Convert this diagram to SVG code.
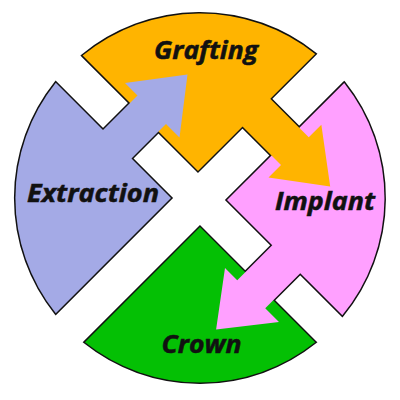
<svg xmlns="http://www.w3.org/2000/svg" xmlns:xlink="http://www.w3.org/1999/xlink" width="400" height="400" viewBox="0 0 400 400">
  <style>
    .outline { fill: none; stroke: #111; stroke-width: 3; stroke-linejoin: miter; }
    .lbl { font-family: "Open Sans", "Noto Sans", "Liberation Sans", sans-serif; font-weight: 700; font-style: italic; font-size: 24.5px; fill: #111; stroke: #111; stroke-width: 0.5; }
    .orange { fill: #FFB400; }
    .lav { fill: #A4AAE6; }
    .pink { fill: #FFA0FF; }
    .green { fill: #04C004; }
  </style>
  <defs>
    <path id="bodyGrafting" d="M82.6,55.6 L198,171 L315.2,53.9 A184.5,184.5 0 0 0 82.6,55.6 Z"/>
    <path id="bodyExtraction" d="M55.8,82.8 L171,198 L55.8,313.2 A184.5,184.5 0 0 1 55.8,82.8 Z"/>
    <path id="bodyImplant" d="M344.2,82.9 L227,200 L342.3,315.3 A184.5,184.5 0 0 0 344.2,82.9 Z"/>
    <path id="bodyCrown" d="M315.2,342.2 L200,227 L84.9,342.2 A184.5,184.5 0 0 0 315.2,342.2 Z"/>
    <polygon id="arrow1" points="94,139 137.5,95.5 125,83 187.5,74.5 179.5,137.5 166,124 122.5,167.5"/>
    <polygon id="arrow2" points="260.75,89.25 308.75,137.25 321.35,124.65 330.2,186.5 268.5,177.5 281,165 233,117"/>
    <polygon id="arrow3" points="281.25,236.25 237.25,280.25 225,268 216.1,329.4 279,322 265.25,308.25 309.25,264.25"/>
  </defs>

  <g id="outlines" class="outline">
    <use xlink:href="#bodyGrafting"/>
    <use xlink:href="#bodyExtraction"/>
    <use xlink:href="#bodyImplant"/>
    <use xlink:href="#bodyCrown"/>
    <use xlink:href="#arrow1"/>
    <use xlink:href="#arrow2"/>
    <use xlink:href="#arrow3"/>
  </g>

  <g id="node-crown">
    <use xlink:href="#bodyCrown" class="green"/>
  </g>
  <g id="node-implant">
    <use xlink:href="#bodyImplant" class="pink"/>
  </g>
  <g id="node-grafting">
    <use xlink:href="#bodyGrafting" class="orange"/>
  </g>
  <g id="node-extraction">
    <use xlink:href="#bodyExtraction" class="lav"/>
  </g>

  <g id="connectors">
    <use xlink:href="#arrow1" class="lav"/>
    <use xlink:href="#arrow2" class="orange"/>
    <use xlink:href="#arrow3" class="pink"/>
  </g>

  <g id="labels">
    <text class="lbl" x="154" y="58.5" textLength="104" lengthAdjust="spacingAndGlyphs">Grafting</text>
    <text class="lbl" x="27" y="201.5" textLength="132" lengthAdjust="spacingAndGlyphs">Extraction</text>
    <text class="lbl" x="275" y="209.5" textLength="100" lengthAdjust="spacingAndGlyphs">Implant</text>
    <text class="lbl" x="161.5" y="352.5" textLength="80" lengthAdjust="spacingAndGlyphs">Crown</text>
  </g>
</svg>
